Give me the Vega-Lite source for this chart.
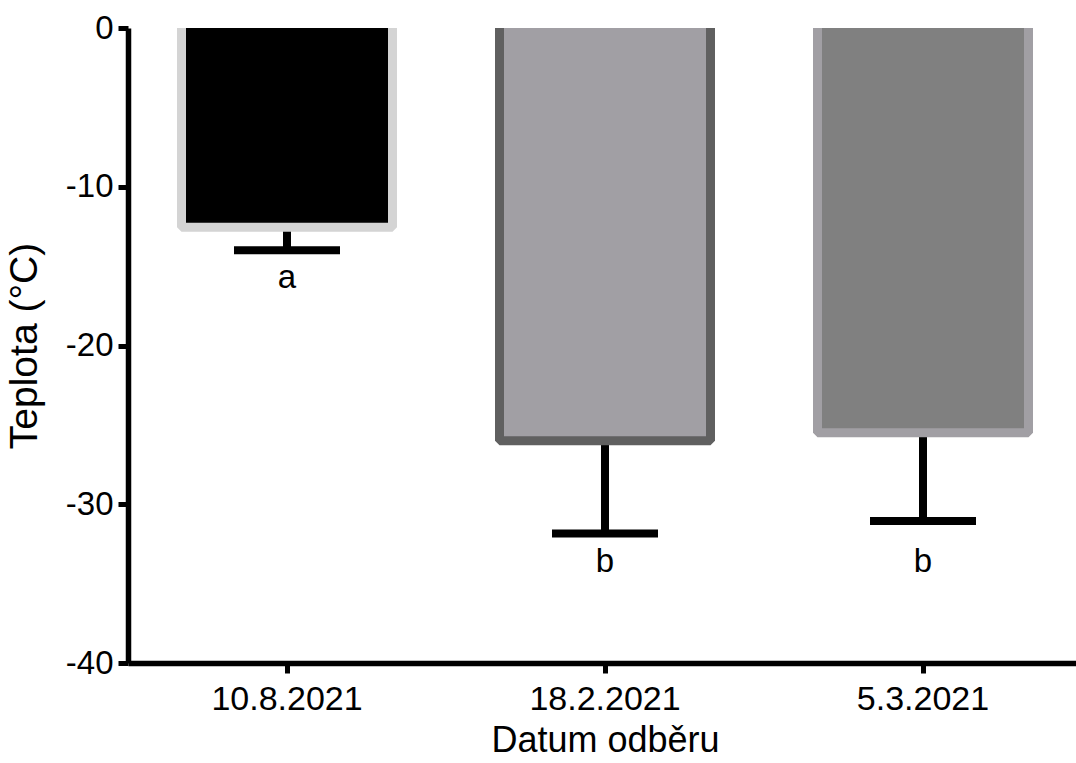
{
  "$schema": "https://vega.github.io/schema/vega-lite/v6.json",
  "autosize": {"type": "none"},
  "padding": {"left": 128, "top": 28, "right": 0, "bottom": 100},
  "width": 948,
  "height": 635,
  "background": "white",
  "config": {
    "view": {"stroke": null},
    "font": "Liberation Sans",
    "axis": {
      "domainColor": "black",
      "tickColor": "black",
      "labelColor": "black",
      "titleColor": "black",
      "labelFont": "Liberation Sans",
      "titleFont": "Liberation Sans",
      "titleFontWeight": "normal",
      "grid": false
    }
  },
  "data": {
    "values": [
      {"datum": "10.8.2021", "teplota": -12.55, "dolni": -14.0, "skupina": "a", "popisek_y": -16.4},
      {"datum": "18.2.2021", "teplota": -26.0, "dolni": -31.85, "skupina": "b", "popisek_y": -34.25},
      {"datum": "5.3.2021", "teplota": -25.5, "dolni": -31.05, "skupina": "b", "popisek_y": -34.25}
    ]
  },
  "encoding": {
    "x": {
      "field": "datum",
      "type": "nominal",
      "sort": null,
      "scale": {"range": [0, 954], "paddingInner": 0.33, "paddingOuter": 0.165},
      "axis": {
        "title": "Datum odběru",
        "titleFontSize": 36,
        "titlePadding": 7,
        "labelFontSize": 34,
        "labelAngle": 0,
        "labelPadding": 9,
        "tickSize": 10,
        "tickWidth": 5,
        "domainWidth": 5.5
      }
    }
  },
  "layer": [
    {
      "mark": {"type": "rule", "strokeWidth": 8, "color": "black"},
      "encoding": {
        "y": {"field": "teplota", "type": "quantitative"},
        "y2": {"field": "dolni"}
      }
    },
    {
      "mark": {"type": "bar", "width": 211, "strokeWidth": 9, "strokeJoin": "bevel", "clip": true},
      "encoding": {
        "y": {
          "field": "teplota",
          "type": "quantitative",
          "scale": {"domain": [-40, 0], "nice": false},
          "axis": {
            "title": "Teplota (°C)",
            "titleFontSize": 39,
            "titlePadding": 21,
            "values": [0, -10, -20, -30, -40],
            "labelExpr": "datum.value == 0 ? '0' : '-' + abs(datum.value)",
            "labelFontSize": 33,
            "labelPadding": 5,
            "tickSize": 10,
            "tickWidth": 5,
            "domainWidth": 5.5
          }
        },
        "y2": {"datum": 0.8},
        "fill": {
          "field": "datum",
          "type": "nominal",
          "scale": {"domain": ["10.8.2021", "18.2.2021", "5.3.2021"], "range": ["#000000", "#a19fa4", "#808080"]},
          "legend": null
        },
        "stroke": {
          "field": "datum",
          "type": "nominal",
          "scale": {"domain": ["10.8.2021", "18.2.2021", "5.3.2021"], "range": ["#d4d4d4", "#606060", "#a19fa4"]},
          "legend": null
        }
      }
    },
    {
      "mark": {"type": "tick", "size": 106, "thickness": 8, "color": "black", "opacity": 1},
      "encoding": {
        "y": {"field": "dolni", "type": "quantitative"}
      }
    },
    {
      "mark": {"type": "text", "fontSize": 33, "baseline": "alphabetic", "align": "center", "color": "black", "font": "Liberation Sans"},
      "encoding": {
        "y": {"field": "popisek_y", "type": "quantitative"},
        "text": {"field": "skupina"}
      }
    },
    {
      "mark": {"type": "rule", "strokeWidth": 5.3, "color": "black"},
      "encoding": {
        "y": {"datum": 0}
      }
    }
  ]
}
